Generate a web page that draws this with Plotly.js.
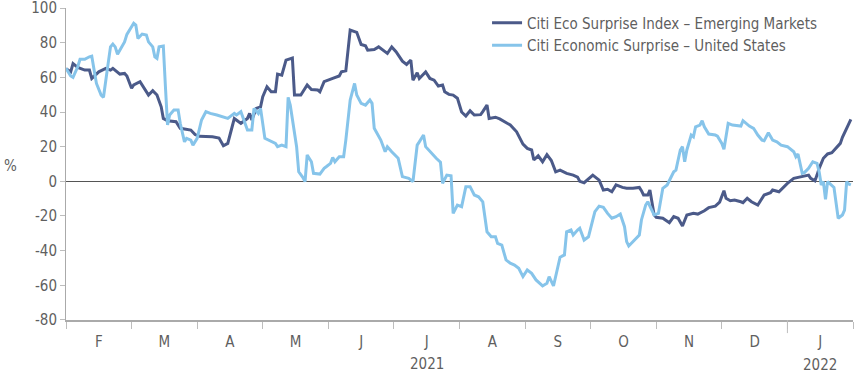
<!DOCTYPE html>
<html>
<head>
<meta charset="utf-8">
<script src="https://cdn.plot.ly/plotly-3.0.1.min.js"></script>
<style>html,body{margin:0;padding:0;background:#fff}#chart{width:855px;height:375px}</style>
</head>
<body>
<div id="chart"></div>
<script>
// Citi Eco Surprise Index – Emerging Markets
const emDates = ["2021-02-01","2021-02-03","2021-02-04","2021-02-06","2021-02-09","2021-02-11","2021-02-12","2021-02-15","2021-02-18","2021-02-20","2021-02-21","2021-02-24","2021-02-26","2021-02-27",
"2021-03-01","2021-03-02","2021-03-05","2021-03-07","2021-03-09","2021-03-11","2021-03-13","2021-03-15","2021-03-16","2021-03-18","2021-03-22","2021-03-24","2021-03-27","2021-03-29","2021-03-31",
"2021-04-02","2021-04-08","2021-04-11","2021-04-13","2021-04-15","2021-04-17","2021-04-18","2021-04-20","2021-04-21","2021-04-24","2021-04-25","2021-04-26","2021-04-28","2021-04-30",
"2021-05-01","2021-05-03","2021-05-05","2021-05-07","2021-05-08","2021-05-10","2021-05-12","2021-05-15","2021-05-16","2021-05-19","2021-05-22","2021-05-24","2021-05-27","2021-05-28","2021-05-30",
"2021-06-03","2021-06-06","2021-06-07","2021-06-09","2021-06-11","2021-06-14","2021-06-16","2021-06-18","2021-06-19","2021-06-22","2021-06-24","2021-06-26","2021-06-28","2021-06-30",
"2021-07-02","2021-07-05","2021-07-07","2021-07-09","2021-07-10","2021-07-12","2021-07-13","2021-07-16","2021-07-18","2021-07-20","2021-07-22","2021-07-24","2021-07-25","2021-07-27","2021-07-29","2021-07-31",
"2021-08-02","2021-08-04","2021-08-06","2021-08-08","2021-08-11","2021-08-12","2021-08-14","2021-08-15","2021-08-18","2021-08-20","2021-08-23","2021-08-25","2021-08-28","2021-08-31",
"2021-09-02","2021-09-04","2021-09-05","2021-09-07","2021-09-09","2021-09-11","2021-09-13","2021-09-15","2021-09-17","2021-09-20","2021-09-23","2021-09-25","2021-09-26","2021-09-28",
"2021-10-02","2021-10-05","2021-10-07","2021-10-09","2021-10-11","2021-10-13","2021-10-16","2021-10-18","2021-10-21","2021-10-24","2021-10-25","2021-10-26","2021-10-28","2021-10-29","2021-10-31",
"2021-11-01","2021-11-04","2021-11-07","2021-11-09","2021-11-11","2021-11-13","2021-11-15","2021-11-18","2021-11-20","2021-11-23","2021-11-25","2021-11-28","2021-11-30",
"2021-12-02","2021-12-03","2021-12-05","2021-12-07","2021-12-10","2021-12-11","2021-12-13","2021-12-15","2021-12-18","2021-12-19","2021-12-21","2021-12-24","2021-12-25","2021-12-28","2021-12-30",
"2022-01-01","2022-01-04","2022-01-06","2022-01-09","2022-01-11","2022-01-12","2022-01-14","2022-01-15","2022-01-16","2022-01-18","2022-01-20","2022-01-22","2022-01-24","2022-01-26","2022-01-27","2022-01-29","2022-01-31"];
const emValues = [65,63.2,68,65.8,64.2,64.2,59.4,63.2,65.2,64.2,65.2,61.9,62.3,60.8,
53.7,55.6,57.5,53.7,49.8,52.3,49.8,43,36.3,35,34.4,30.6,30,29.6,27,
26,25.7,25,20.5,21.9,31.5,36.3,34.4,33.5,36.3,39.2,35.4,42.1,43,
48.8,54.6,51.7,51.7,61.9,61.3,70,71.2,49.8,49.8,55.6,53,52.7,51.7,57.5,
59.4,60.8,63.2,63.8,87.3,86,79,78.2,75.7,76.1,77.6,75.7,73.8,77.6,
74.8,69.4,67.5,70,58.4,62.7,59.4,63.2,59.4,58.4,55,55.6,51.7,50.2,49.8,48,
40,37.7,40.7,38.3,38.5,40.2,44,36.3,37,36,34,32.5,28.6,21.5,
19,18.1,12.3,14.7,11.3,15.4,12,5.5,6.5,4.6,3.6,2.4,0,-0.8,
3.6,0.7,-5,-4.6,-6,-2.1,-3.5,-4,-4,-3.5,-5.4,-7.9,-7.9,-5,-19.4,
-20.8,-21.3,-23.9,-20.4,-21.3,-25.8,-19.4,-18.5,-18.9,-17,-15.2,-14.3,-12,
-5.4,-9.8,-11.2,-10.8,-11.8,-12.3,-9.8,-11.8,-13.7,-11.8,-7.9,-6.6,-5,-6,-3.5,
-1.2,1.7,2.3,3.1,3.6,1.7,0.3,3.6,7.5,13.3,15.8,16.5,19,21.9,25.4,30.6,35.8];

// Citi Economic Surprise – United States
const usDates = ["2021-02-01","2021-02-03","2021-02-04","2021-02-06","2021-02-07","2021-02-09","2021-02-11","2021-02-12","2021-02-13","2021-02-14","2021-02-16","2021-02-17","2021-02-19","2021-02-20","2021-02-21","2021-02-22","2021-02-23","2021-02-24","2021-02-26","2021-02-27","2021-02-28",
"2021-03-02","2021-03-03","2021-03-04","2021-03-06","2021-03-08","2021-03-09","2021-03-11","2021-03-12","2021-03-13","2021-03-14","2021-03-16","2021-03-17","2021-03-18","2021-03-19","2021-03-21","2021-03-23","2021-03-24","2021-03-26","2021-03-27","2021-03-29","2021-03-30",
"2021-04-01","2021-04-03","2021-04-05","2021-04-07","2021-04-10","2021-04-13","2021-04-15","2021-04-18","2021-04-19","2021-04-21","2021-04-23","2021-04-24","2021-04-26","2021-04-27","2021-04-29","2021-04-30",
"2021-05-02","2021-05-05","2021-05-07","2021-05-08","2021-05-10","2021-05-12","2021-05-13","2021-05-14","2021-05-15","2021-05-17","2021-05-18","2021-05-20","2021-05-21","2021-05-22","2021-05-24","2021-05-25","2021-05-28","2021-05-30","2021-05-31",
"2021-06-02","2021-06-03","2021-06-04","2021-06-06","2021-06-08","2021-06-09","2021-06-11","2021-06-13","2021-06-14","2021-06-16","2021-06-18","2021-06-20","2021-06-21","2021-06-22","2021-06-25","2021-06-27","2021-06-28","2021-06-30",
"2021-07-02","2021-07-03","2021-07-05","2021-07-08","2021-07-10","2021-07-12","2021-07-13","2021-07-15","2021-07-16","2021-07-18","2021-07-21","2021-07-23","2021-07-24","2021-07-26","2021-07-28","2021-07-29","2021-07-31",
"2021-08-02","2021-08-04","2021-08-06","2021-08-08","2021-08-10","2021-08-12","2021-08-14","2021-08-16","2021-08-18","2021-08-19","2021-08-21","2021-08-23","2021-08-25","2021-08-27","2021-08-29","2021-08-31",
"2021-09-02","2021-09-04","2021-09-06","2021-09-09","2021-09-11","2021-09-12","2021-09-14","2021-09-15","2021-09-17","2021-09-19","2021-09-20","2021-09-22","2021-09-23","2021-09-25","2021-09-26","2021-09-28","2021-09-30",
"2021-10-02","2021-10-03","2021-10-05","2021-10-07","2021-10-09","2021-10-11","2021-10-13","2021-10-15","2021-10-17","2021-10-18","2021-10-19","2021-10-21","2021-10-24","2021-10-25","2021-10-27","2021-10-28","2021-10-30","2021-10-31",
"2021-11-02","2021-11-04","2021-11-06","2021-11-07","2021-11-09","2021-11-10","2021-11-12","2021-11-13","2021-11-14","2021-11-15","2021-11-17","2021-11-18","2021-11-19","2021-11-21","2021-11-22","2021-11-23","2021-11-25","2021-11-28","2021-11-29",
"2021-12-01","2021-12-02","2021-12-04","2021-12-06","2021-12-10","2021-12-11","2021-12-14","2021-12-16","2021-12-18","2021-12-20","2021-12-21","2021-12-23","2021-12-25","2021-12-27","2021-12-29",
"2022-01-01","2022-01-04","2022-01-05","2022-01-06","2022-01-08","2022-01-09","2022-01-11","2022-01-13","2022-01-15","2022-01-16","2022-01-17","2022-01-18","2022-01-19","2022-01-20","2022-01-22","2022-01-23","2022-01-25","2022-01-27","2022-01-28","2022-01-29","2022-01-30","2022-01-31"];
const usValues = [65.2,60.8,60,66.1,70.4,70.4,71.9,72.3,64.2,56.5,49.8,48.5,68.1,77.6,79.2,77.6,73.4,75.7,80.5,84.8,87.3,
91.2,90.2,82.5,85,84.4,80.5,77.6,71.9,71,77.6,78.1,54.6,32.5,38.3,41.1,41.1,33.5,22.8,24.8,23.8,20.9,
24.8,35.4,40.2,39.2,38.3,36.9,36.3,39.2,38.3,40.2,32.5,29.6,29.6,42.1,39.2,42.1,
24.8,22.8,21.9,20,20.9,20,48.5,44,35,20,5.5,2.2,-0.2,15.2,11.3,4.6,4.2,7.5,8.4,
10.4,13.8,11.3,14.2,14.2,23.8,46.9,56.5,49.8,45,44,46.9,45,30.6,23.8,17.1,20,17.1,
14.2,13.3,2.7,1.7,-0.2,20.9,22.8,26.7,20,17.1,13.3,11,-1.2,3.6,3.2,-18.5,-13.7,
-14.6,-3.1,-3.1,-7.9,-8.9,-11.8,-29.1,-32,-32,-35.8,-36.8,-45.4,-47.3,-48.3,-50.2,-55,
-51.2,-53.1,-56.9,-60.4,-58.8,-55,-60.4,-55,-43.8,-42.5,-29.1,-28.1,-31,-28.1,-27.1,-33.9,-32,
-22.3,-17.5,-14.3,-15,-18.5,-21.3,-20.4,-18.9,-26.2,-34.8,-37.3,-34.8,-31,-22.3,-13.7,-11.8,-16.6,-19.4,
-18.5,-4,-2.1,0.7,5.5,6.5,18.1,20,11.3,18.1,26.7,25.7,31.5,32.5,35,31.5,27.3,26.7,26.1,
21.9,18.5,33.5,32.5,31.9,35,31.9,30.6,26.7,23.8,23.4,28,23.8,22.8,20.9,
20,17.1,14.2,15.8,4.6,5,7.5,11.3,10.4,5.5,-2.1,-0.2,-10.4,-0.2,-2.1,-3.5,-21.3,-19.4,-16.6,-0.2,-1.6,-2.1];

const monthLabels = ["F","M","A","M","J","J","A","S","O","N","D","J"];
const yearLabels = ["2021","2022"];
const yTicks = [-80,-60,-40,-20,0,20,40,60,80,100];
const seriesNames = ["Citi Eco Surprise Index \u2013 Emerging Markets","Citi Economic Surprise \u2013 United States"];

// Months are drawn with equal widths, as in the source chart.
function monthPos(s){
  const [y,m,d] = s.split("-").map(Number);
  const days = new Date(y, m, 0).getDate();
  return (y-2021)*12 + (m-2) + (d-1)/days;
}

const FONT = "'Liberation Sans Narrow', 'DejaVu Sans Condensed', Roboto, sans-serif";
const TXT = "#5f5f5f";

const traces = [
  {x: emDates.map(monthPos), y: emValues, name: seriesNames[0], type: "scatter", mode: "lines",
   line: {color: "#4b5a89", width: 3}},
  {x: usDates.map(monthPos), y: usValues, name: seriesNames[1], type: "scatter", mode: "lines",
   line: {color: "#86c4ea", width: 3}},
  {x: [0.5], y: [null], xaxis: "x2", showlegend: false, hoverinfo: "skip", type: "scatter", mode: "lines"}
];

const monthTicks = [0,1,2,3,4,5,6,7,8,9,10,11,12];
const layout = {
  width: 855, height: 375,
  margin: {l: 66, r: 2, t: 8, b: 55},
  paper_bgcolor: "#fff", plot_bgcolor: "#fff",
  font: {family: FONT, size: 15, color: TXT},
  showlegend: true,
  legend: {x: 0.535, xanchor: "left", y: 1.005, yanchor: "top", bgcolor: "rgba(0,0,0,0)",
           font: {family: FONT, size: 15, color: TXT}, borderwidth: 0},
  xaxis: {range: [0, 12], tickvals: monthTicks, ticktext: monthTicks.map(() => ""),
          ticks: "outside", ticklen: 7, tickwidth: 1, tickcolor: "#bdbdbd",
          showline: true, linecolor: "#aaaaaa", linewidth: 2,
          showgrid: false, zeroline: false, fixedrange: true},
  xaxis2: {range: [0, 12], overlaying: "x", side: "bottom", anchor: "y",
           tickvals: monthLabels.map((_, i) => i + 0.5), ticktext: monthLabels,
           ticks: "outside", ticklen: 8, tickcolor: "rgba(0,0,0,0)",
           showline: false, showgrid: false, zeroline: false,
           tickfont: {family: FONT, size: 15, color: TXT}},
  yaxis: {range: [-80.05, 100.05], tickvals: yTicks, ticktext: yTicks.map(String),
          ticklabeloverflow: "allow",
          ticks: "outside", ticklen: 5, tickwidth: 1, tickcolor: "#bdbdbd",
          showline: true, linecolor: "#aaaaaa", linewidth: 1,
          showgrid: false, zeroline: true, zerolinecolor: "#555555", zerolinewidth: 1,
          tickfont: {family: FONT, size: 15, color: TXT}},
  shapes: [
    {type: "line", xref: "x", yref: "paper", x0: 11, x1: 11, y0: 0, y1: -0.042,
     line: {color: "#bdbdbd", width: 1}}
  ],
  annotations: [
    {text: "%", xref: "paper", yref: "y", x: -0.071, y: 9, xanchor: "center", yanchor: "middle",
     showarrow: false, font: {family: FONT, size: 15, color: TXT}},
    {text: yearLabels[0], xref: "x", yref: "paper", x: 5.5, y: -0.141, xanchor: "center", yanchor: "middle",
     showarrow: false, font: {family: FONT, size: 15, color: TXT}},
    {text: yearLabels[1], xref: "x", yref: "paper", x: 11.5, y: -0.144, xanchor: "center", yanchor: "middle",
     showarrow: false, font: {family: FONT, size: 15, color: TXT}}
  ]
};

Plotly.newPlot("chart", traces, layout, {displayModeBar: false, staticPlot: true});
</script>
</body>
</html>
